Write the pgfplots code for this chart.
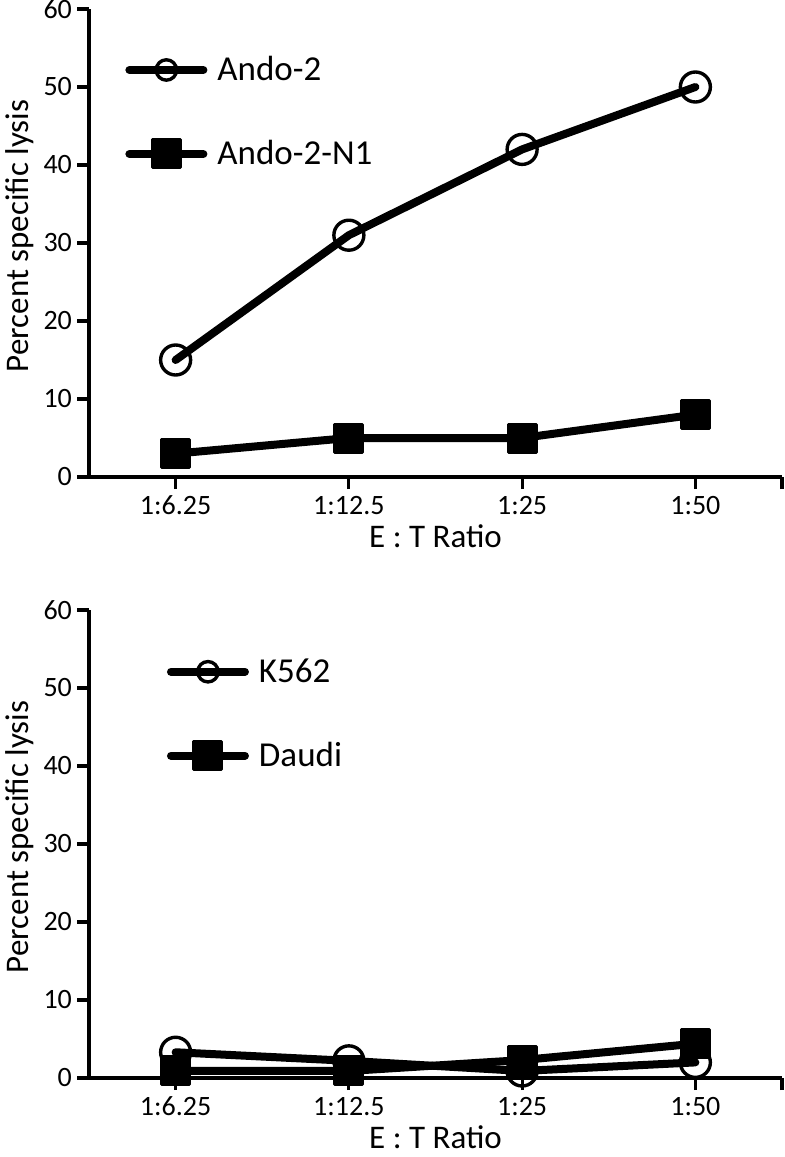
\documentclass[border=0pt]{standalone}
\usepackage{pgfplots}
\pgfplotsset{compat=1.18}
\usepackage{fontspec}
\setmainfont{Carlito}
\begin{document}
\begin{tikzpicture}
\useasboundingbox (-44.5pt,-340pt) rectangle (347.5pt,238.5pt);
\pgfplotsset{
  myaxis/.style={
    width=346.5pt, height=234pt, scale only axis,
    xmin=-0.5, xmax=3.5, ymin=0, ymax=60,
    axis x line=bottom, axis y line=left,
    axis line style={line width=1.6pt, -},
    every tick/.style={line width=1.6pt, black},
    tick align=outside, major tick length=6pt,
    xtick={0,1,2,3,3.5},
    xticklabels={1:6.25,1:12.5,1:25,1:50,},
    ytick={0,10,...,60},
    /pgf/number format/assume math mode=true,
    tick label style={font=\fontsize{14}{16}\selectfont},
    yticklabel style={xshift=1pt},
    label style={font=\fontsize{16.5}{19}\selectfont},
    xlabel={E : T Ratio},
    ylabel={Percent specific lysis},
    xlabel style={at={(axis description cs:0.5,0)}, anchor=center, yshift=-29.5pt},
    ylabel style={at={(axis description cs:-0.0996,0.515)}, anchor=center},
    clip=false,
    legend cell align=left,
    legend image code/.code={
      \draw[mark repeat=2,mark phase=2,##1] plot coordinates {(0pt,0pt) (18.5pt,0pt) (37pt,0pt)};
    },
    legend style={draw=none, fill=none, inner sep=0pt, outer sep=0pt,
      row sep=0pt, column sep=5pt,
      font=\fontsize{17.5}{20}\selectfont,
      nodes={inner sep=0pt, minimum height=42pt}},
  },
  circ/.style={black, line width=4pt, line cap=round, line join=round, mark=o, mark size=7.5pt,
    mark options={line width=1.7pt, solid}, legend image post style={mark size=5.1pt}},
  sq/.style={black, line width=4pt, line cap=round, line join=round, mark=square*, mark size=7pt,
    mark options={line width=1.5pt, solid, fill=black, rounded corners=1pt}},
}
\begin{axis}[myaxis, at={(0,0)}, anchor=south west,
  legend style={at={(axis cs:-0.29,46.8)}, anchor=west}]
\addplot[circ] coordinates {(0,15) (1,31) (2,42) (3,50)};
\addlegendentry{Ando-2}
\addplot[sq] coordinates {(0,3) (1,5) (2,5) (3,8)};
\addlegendentry{Ando-2-N1}
\end{axis}
\begin{axis}[myaxis, at={(0,-300.5pt)}, anchor=south west,
  legend style={at={(axis cs:-0.05,46.7)}, anchor=west}]
\addplot[circ] coordinates {(0,3.3) (1,2.2) (2,0.9) (3,2.0)};
\addlegendentry{K562}
\addplot[sq] coordinates {(0,0.9) (1,0.9) (2,2.3) (3,4.4)};
\addlegendentry{Daudi}
\end{axis}
\end{tikzpicture}
\end{document}
